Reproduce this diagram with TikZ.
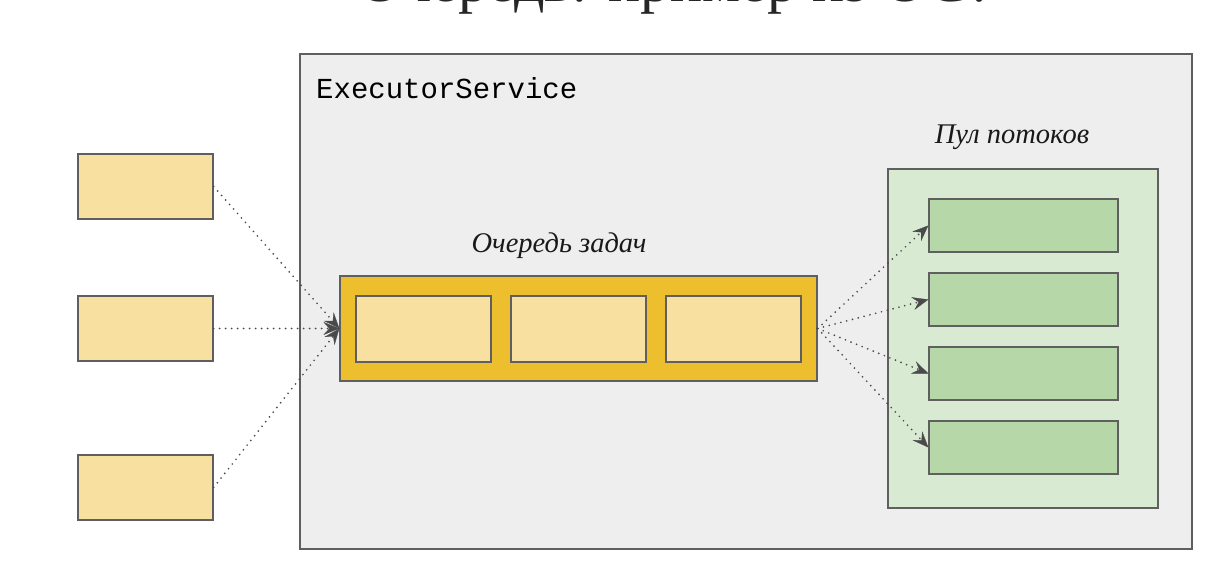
\documentclass[tikz,border=0pt]{standalone}
\usepackage{fontspec}
\setmainfont{Liberation Serif}
\setmonofont{Liberation Mono}
\usetikzlibrary{arrows.meta}
\definecolor{taskfill}{HTML}{F8E1A0}
\definecolor{queuefill}{HTML}{EDBF2F}
\definecolor{execfill}{HTML}{EEEEEE}
\definecolor{poolfill}{HTML}{D9EAD3}
\definecolor{workerfill}{HTML}{B6D7A8}
\definecolor{edge}{HTML}{5F5F5F}
\definecolor{arrowc}{HTML}{4A4A4A}
\tikzset{
  x=1pt, y=-1pt,
  box/.style={draw=edge, line width=1.3pt, inner sep=0pt, rectangle},
  task/.style={box, fill=taskfill, minimum width=135pt, minimum height=65pt},
  worker/.style={box, fill=workerfill, minimum width=189pt, minimum height=53pt},
  flow/.style={arrowc, line width=1.9pt, line cap=round, dash pattern=on 0pt off 6pt,
    -{Stealth[length=16pt,width=13pt,inset=6pt,line width=0.3pt,sep=0pt,line cap=butt]}},
  lbl/.style={font=\itshape\fontsize{28.5}{32}\selectfont, inner sep=0pt, text=black!90}
}
\begin{document}
\begin{tikzpicture}
\useasboundingbox (0,0) rectangle (1232,586);
\fill[white] (0,0) rectangle (1232,586);
\begin{scope}
\clip (0,0) rectangle (1232,586);
\node[anchor=base, font=\fontsize{60}{60}\selectfont, text=black!85, inner sep=0pt] (title) at (676,2) {Очередь: пример из ОС?};
\end{scope}
% ExecutorService container
\node[box, fill=execfill, minimum width=892pt, minimum height=495pt] (exec) at (746,301.5) {};
\node[anchor=base west, font=\ttfamily\fontsize{29}{32}\selectfont, inner sep=0pt] (execlbl) at (316,99) {ExecutorService};
% producers
\node[task] (p1) at (145.5,186.5) {};
\node[task] (p2) at (145.5,328.5) {};
\node[task] (p3) at (145.5,487.5) {};
% queue
\node[lbl] (qlbl) at (559,246) {Очередь задач};
\node[box, fill=queuefill, minimum width=477pt, minimum height=105pt] (queue) at (578.5,328.5) {};
\node[task, minimum height=66pt] (q1) at (423.5,329) {};
\node[task, minimum height=66pt] (q2) at (578.5,329) {};
\node[task, minimum height=66pt] (q3) at (733.5,329) {};
% pool
\node[lbl] (plbl) at (1012,137) {Пул потоков};
\node[box, fill=poolfill, minimum width=270pt, minimum height=339pt] (pool) at (1023,338.5) {};
\node[worker] (w1) at (1023.5,225.5) {};
\node[worker] (w2) at (1023.5,299.5) {};
\node[worker] (w3) at (1023.5,373.5) {};
\node[worker] (w4) at (1023.5,447.5) {};
% arrows
\draw[flow] (p1.east) -- (queue.west);
\draw[flow] (p2.east) -- (queue.west);
\draw[flow] (p3.east) -- (queue.west);
\draw[flow] (queue.east) -- (w1.west);
\draw[flow] (queue.east) -- (w2.west);
\draw[flow] (queue.east) -- (w3.west);
\draw[flow] (queue.east) -- (w4.west);
\end{tikzpicture}
\end{document}
